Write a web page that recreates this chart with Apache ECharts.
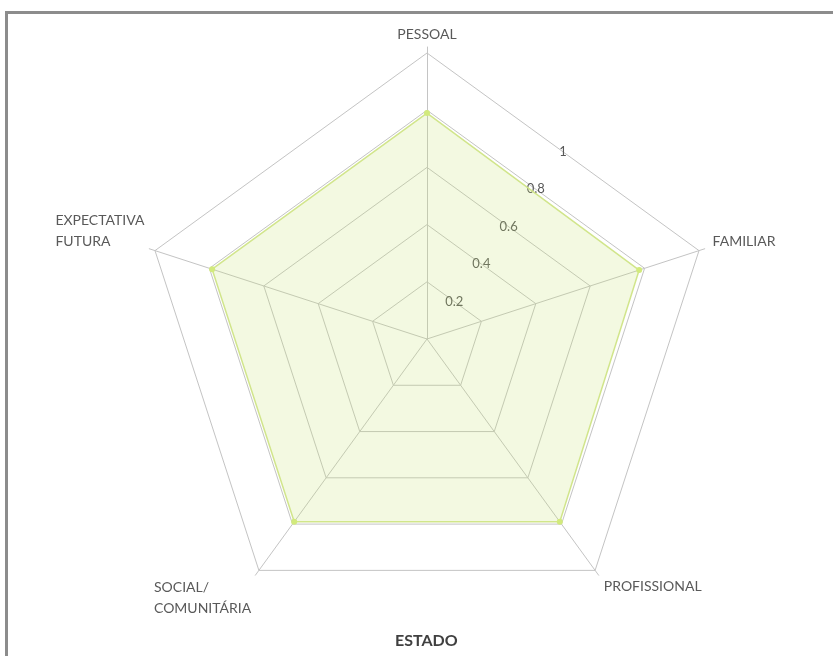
<!DOCTYPE html>
<html>
<head>
<meta charset="utf-8">
<script src="https://cdn.jsdelivr.net/npm/echarts@6/dist/echarts.min.js"></script>
<style>
  html, body { margin: 0; padding: 0; background: #ffffff; }
  #wrap { position: relative; width: 833px; height: 656px; overflow: hidden; }
  #chart { position: absolute; left: 0; top: 0; width: 833px; height: 656px; }
  #frame {
    position: absolute; left: 5px; top: 11px; right: -20px; bottom: -20px;
    border-left: 3px solid #8c8c8c; border-top: 3px solid #8c8c8c;
    pointer-events: none;
  }
</style>
</head>
<body>
<div id="wrap">
  <div id="chart"></div>
  <div id="frame"></div>
</div>
<script>
// Dimensions of the radar (clockwise from the top) and the single "ESTADO" series
const categories = ['PESSOAL', 'FAMILIAR', 'PROFISSIONAL', 'SOCIAL/\nCOMUNITÁRIA', 'EXPECTATIVA\nFUTURA'];
const estado = [0.79, 0.78, 0.79, 0.79, 0.79];
const scaleMin = 0;
const scaleMax = 1;
const scaleSplits = 5;
const chartTitle = 'ESTADO';

const FONT = 'Lato, "Open Sans", sans-serif';
const TEXT_GREY = '#595959';
const GRID_GREY = '#c4c4c4';

const CENTER = [427, 339];
const RADIUS = 286;

// ECharts lays radar indicators out counter-clockwise; walk the list backwards
// (keeping the first one on top) so the dimensions run clockwise.
const order = [0].concat(categories.map((_, i) => i).slice(1).reverse());

// per-dimension nudges of the name boxes
const nameBox = [
  {},
  { padding: [0, 0, 13, 6] },
  { padding: [19, 0, 0, 4] },
  { padding: [42, 3, 0, 0] },
  { padding: [0, 3, 34, 0] }
];

const ringIndicators = order.map(i => ({
  name: categories[i], min: scaleMin, max: scaleMax, nameTextStyle: nameBox[i]
}));
const spokeIndicators = order.map(i => ({ name: categories[i], min: scaleMin, max: scaleMax }));
// value labels sit on the mid-points of the ring edges between the first two spokes
const labelIndicators = order.map((i, k) => ({
  name: categories[i], min: scaleMin, max: scaleMax,
  axisLabel: { show: k === 0 }
}));
const seriesValues = order.map(i => estado[i]);

const chart = echarts.init(document.getElementById('chart'), null, { renderer: 'canvas' });

chart.setOption({
  backgroundColor: '#ffffff',
  animation: false,
  title: {
    text: chartTitle,
    left: 395,
    top: 632,
    padding: 0,
    textStyle: { fontFamily: FONT, fontSize: 16, fontWeight: 'bold', color: '#404040', lineHeight: 18 }
  },
  radar: [
    {
      center: CENTER,
      radius: RADIUS,
      startAngle: 90,
      shape: 'polygon',
      splitNumber: scaleSplits,
      indicator: ringIndicators,
      axisNameGap: 8,
      axisName: {
        show: true,
        color: TEXT_GREY,
        fontFamily: FONT,
        fontSize: 14,
        lineHeight: 21,
        formatter: (name) => name.split('\n').map(s => '{l|' + s + '}').join('\n'),
        rich: {
          l: { align: 'left', color: TEXT_GREY, fontFamily: FONT, fontSize: 14, lineHeight: 21 }
        }
      },
      axisLine: { show: false },
      axisTick: { show: false },
      axisLabel: { show: false },
      splitLine: { show: true, lineStyle: { color: GRID_GREY, width: 1 } },
      splitArea: { show: false }
    },
    {
      center: CENTER,
      radius: RADIUS + 6,
      startAngle: 90,
      shape: 'polygon',
      splitNumber: 1,
      indicator: spokeIndicators,
      axisName: { show: false },
      axisLine: { show: true, lineStyle: { color: GRID_GREY, width: 1 } },
      axisTick: { show: false },
      axisLabel: { show: false },
      splitLine: { show: false },
      splitArea: { show: false }
    },
    {
      center: CENTER,
      radius: RADIUS * Math.cos(Math.PI / 5),
      startAngle: 54,
      shape: 'polygon',
      splitNumber: scaleSplits,
      indicator: labelIndicators,
      axisName: { show: false },
      axisLine: { show: false },
      axisTick: { show: false },
      axisLabel: {
        show: true,
        margin: 0,
        align: 'center',
        verticalAlign: 'middle',
        showMinLabel: false,
        color: TEXT_GREY,
        fontFamily: FONT,
        fontSize: 13,
        formatter: (v) => (v === 0 ? '' : String(+v.toFixed(1)))
      },
      splitLine: { show: false },
      splitArea: { show: false }
    }
  ],
  series: [
    {
      name: chartTitle,
      type: 'radar',
      radarIndex: 0,
      symbol: 'circle',
      symbolSize: 6,
      itemStyle: { color: '#d2ea7c', borderWidth: 0 },
      lineStyle: { color: '#d3e68f', width: 1.5 },
      areaStyle: { color: 'rgba(198, 225, 112, 0.3)' },
      data: [{ value: seriesValues, name: chartTitle }]
    }
  ]
});
</script>
</body>
</html>
